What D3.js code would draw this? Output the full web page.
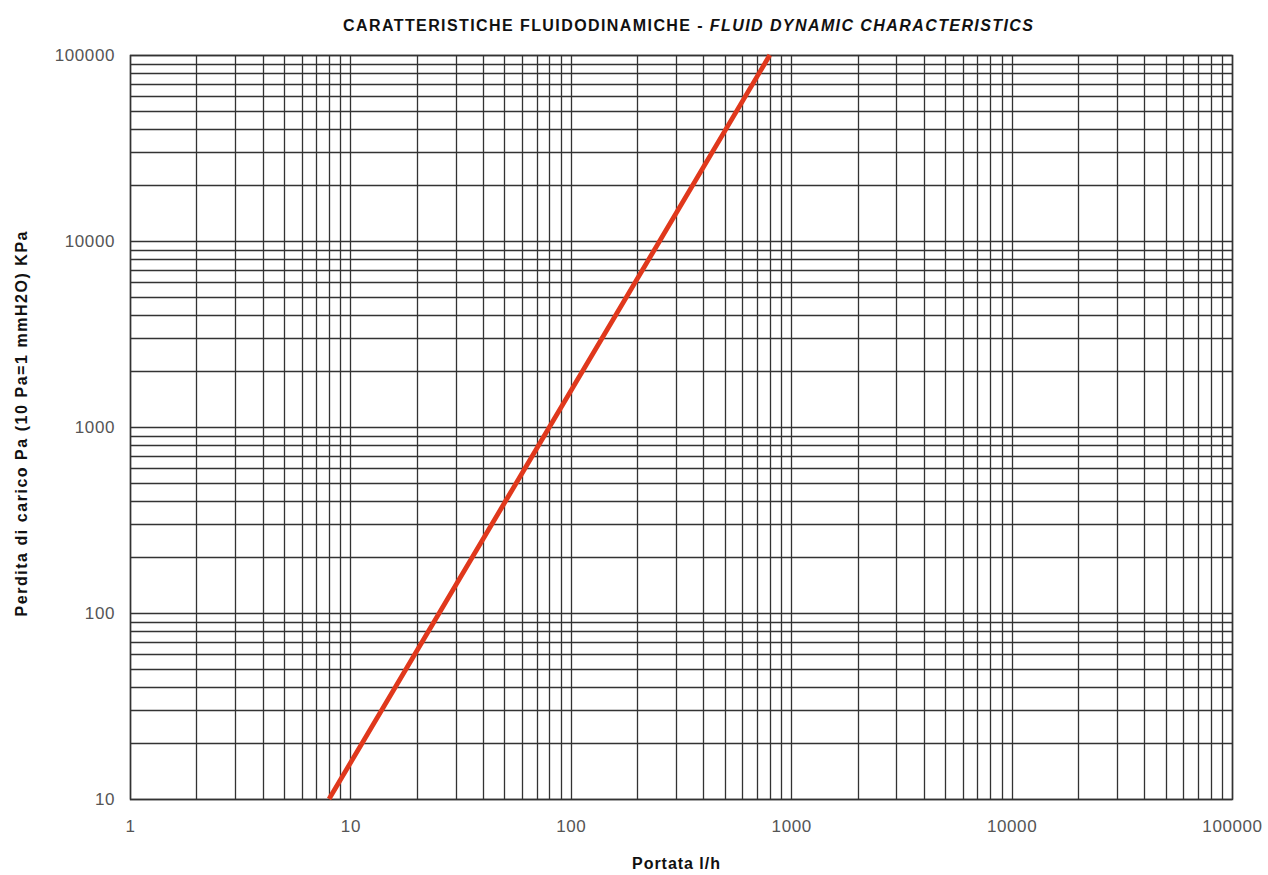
<!DOCTYPE html>
<html>
<head>
<meta charset="utf-8">
<script src="https://cdn.jsdelivr.net/npm/d3@7"></script>
<style>
  html, body { margin: 0; padding: 0; background: #fff; }
  svg { display: block; }
</style>
</head>
<body>
<svg id="chart" width="1268" height="875"></svg>
<script>
// ---- data ----
const titleMain = "CARATTERISTICHE FLUIDODINAMICHE - ";
const titleItalic = "FLUID DYNAMIC CHARACTERISTICS";
const xTitle = "Portata l/h";
const yTitle = "Perdita di carico Pa (10 Pa=1 mmH2O) KPa";
const xDomain = [1, 100000];
const yDomain = [10, 100000];
const xTickLabels = [1, 10, 100, 1000, 10000, 100000];
const yTickLabels = [10, 100, 1000, 10000, 100000];
// curve: flow (l/h) vs pressure drop
const flow = [8, 25.3, 80, 253, 800];
const pressureDrop = [10, 100, 1000, 10000, 100000];

(function () {
const svg = d3.select("#chart");
const pLeft = 130, pRight = 1232, pTop = 55, pBottom = 799;
const font = "Liberation Sans, Arial, sans-serif";

const x = d3.scaleLog().domain(xDomain).range([pLeft, pRight]);
const y = d3.scaleLog().domain(yDomain).range([pBottom, pTop]);

function gridValues(domain) {
  const vals = [];
  for (let d = domain[0]; d < domain[1]; d *= 10) {
    for (let k = 1; k <= 9; k++) vals.push(d * k);
  }
  vals.push(domain[1]);
  return vals;
}

const gridColor = "#333";
const g = svg.append("g");

g.selectAll("line.vx").data(gridValues(xDomain)).join("line")
  .attr("class", "vx")
  .attr("x1", d => Math.round(x(d)) + 0.5).attr("x2", d => Math.round(x(d)) + 0.5)
  .attr("y1", pTop).attr("y2", pBottom)
  .attr("stroke", gridColor).attr("stroke-width", 1.3);

g.selectAll("line.hy").data(gridValues(yDomain)).join("line")
  .attr("class", "hy")
  .attr("y1", d => Math.round(y(d)) + 0.5).attr("y2", d => Math.round(y(d)) + 0.5)
  .attr("x1", pLeft).attr("x2", pRight)
  .attr("stroke", gridColor).attr("stroke-width", 1.3);

g.append("rect")
  .attr("x", pLeft + 0.5).attr("y", pTop + 0.5)
  .attr("width", pRight - pLeft).attr("height", pBottom - pTop)
  .attr("fill", "none").attr("stroke", gridColor).attr("stroke-width", 1.5);

const fmt = d => String(d);
const xAxis = d3.axisBottom(x).tickValues(xTickLabels).tickFormat(fmt).tickSize(0).tickPadding(21);
const yAxis = d3.axisLeft(y).tickValues(yTickLabels).tickFormat(fmt).tickSize(0).tickPadding(15);

const gx = svg.append("g").attr("transform", `translate(0,${pBottom})`).call(xAxis);
const gy = svg.append("g").attr("transform", `translate(${pLeft},0)`).call(yAxis);
[gx, gy].forEach(a => {
  a.select(".domain").remove();
  a.selectAll("text")
    .attr("font-family", font)
    .attr("font-size", 17)
    .attr("letter-spacing", 0.6)
    .attr("fill", "#555");
});

const line = d3.line().x((d, i) => x(flow[i])).y(d => y(d));
svg.append("path")
  .datum(pressureDrop)
  .attr("d", line)
  .attr("fill", "none")
  .attr("stroke", "#e0381c")
  .attr("stroke-width", 4.8)
  .attr("stroke-linecap", "butt");

const t = svg.append("text")
  .attr("x", 343).attr("y", 31)
  .attr("font-family", font)
  .attr("font-size", 16)
  .attr("fill", "#111")
  .attr("textLength", 690)
  .attr("lengthAdjust", "spacing");
t.append("tspan").style("font-weight", "600").text(titleMain);
t.append("tspan").attr("font-weight", "bold").attr("font-style", "italic").text(titleItalic);

svg.append("text")
  .attr("x", 676).attr("y", 869)
  .attr("text-anchor", "middle")
  .attr("font-family", font)
  .attr("font-size", 16).attr("font-weight", "bold")
  .attr("fill", "#111")
  .attr("textLength", 88)
  .attr("lengthAdjust", "spacing")
  .text(xTitle);

svg.append("text")
  .attr("transform", "translate(27,424) rotate(-90)")
  .attr("text-anchor", "middle")
  .attr("font-family", font)
  .attr("font-size", 16).attr("font-weight", "bold")
  .attr("fill", "#111")
  .attr("textLength", 385)
  .attr("lengthAdjust", "spacing")
  .text(yTitle);
})();
</script>
</body>
</html>
